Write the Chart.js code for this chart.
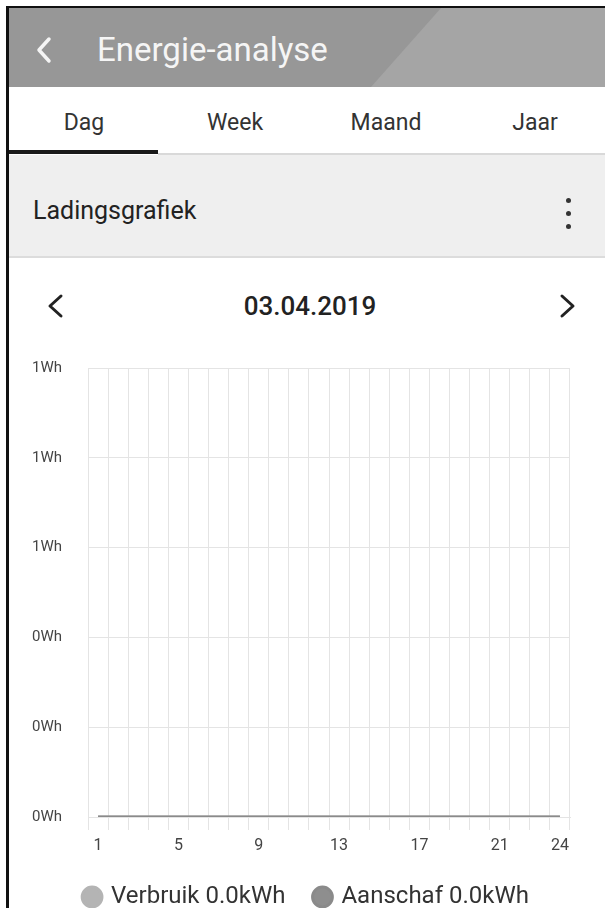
<!DOCTYPE html>
<html>
<head>
<meta charset="utf-8">
<script src="https://cdn.jsdelivr.net/npm/chart.js@4/dist/chart.umd.min.js"></script>
<style>
  html,body{margin:0;padding:0;background:#fff;width:605px;height:908px;overflow:hidden;font-family:Roboto,"Noto Sans",sans-serif;}
  .abs{position:absolute;}
  #bl{left:6px;top:6px;width:3px;height:902px;background:#111;}
  #bt{left:6px;top:6px;width:599px;height:2px;background:#111;}
  #hdr{left:9px;top:8px;width:596px;height:79px;background:#979797;overflow:hidden;}
  #hdrlight{left:0;top:0;width:596px;height:79px;background:#a5a5a5;clip-path:polygon(432px 0,596px 0,596px 79px,362px 79px);}
  #title{left:88px;top:22px;color:#f5f5f5;font-size:33px;line-height:40px;}
  #tabs{left:9px;top:87px;width:596px;height:68px;background:#fff;}
  .tab{position:absolute;top:22px;font-size:23px;line-height:28px;color:#333;transform:translateX(-50%);}
  #uline{left:9px;top:150px;width:149px;height:4px;background:#1a1a1a;}
  #tline{left:158px;top:153px;width:447px;height:2px;background:#d9d9d9;}
  #sect{left:9px;top:155px;width:596px;height:101px;background:#efefef;}
  #sline{left:9px;top:256px;width:596px;height:2px;background:#dcdcdc;}
  #stitle{left:33px;top:196px;font-size:25px;line-height:30px;color:#222;}
  .dot{position:absolute;left:566px;width:5px;height:5px;border-radius:50%;background:#333;}
  #date{left:310px;top:290px;font-size:26px;line-height:32px;color:#222;transform:translateX(-50%);font-weight:500;}
  #wrap{left:9px;top:330px;width:596px;height:589px;}
  svg{position:absolute;overflow:visible;}
</style>
</head>
<body>
<div class="abs" id="hdr"><div class="abs" id="hdrlight"></div><div class="abs" id="title">Energie-analyse</div></div>
<svg style="left:0;top:0" width="605" height="908">
  <polyline points="49,39 39,50 49,61" fill="none" stroke="#f5f5f5" stroke-width="3.5" stroke-linecap="round" stroke-linejoin="round"/>
  <polyline points="61,296 50,306 61,316" fill="none" stroke="#222" stroke-width="3" stroke-linecap="round" stroke-linejoin="round"/>
  <polyline points="562,296 573,306 562,316" fill="none" stroke="#222" stroke-width="3" stroke-linecap="round" stroke-linejoin="round"/>
</svg>
<div class="abs" id="bl"></div>
<div class="abs" id="bt"></div>
<div class="abs" id="tabs">
  <div class="tab" style="left:75px">Dag</div>
  <div class="tab" style="left:226px">Week</div>
  <div class="tab" style="left:377px">Maand</div>
  <div class="tab" style="left:526px">Jaar</div>
</div>
<div class="abs" id="tline"></div>
<div class="abs" id="uline"></div>
<div class="abs" id="sect"></div>
<div class="abs" id="sline"></div>
<div class="abs" id="stitle">Ladingsgrafiek</div>
<div class="dot" style="top:198px"></div>
<div class="dot" style="top:211px"></div>
<div class="dot" style="top:224px"></div>
<div class="abs" id="date">03.04.2019</div>
<div class="abs" id="wrap"><canvas id="c"></canvas></div>
<script>
const hours = ["1","2","3","4","5","6","7","8","9","10","11","12","13","14","15","16","17","18","19","20","21","22","23","24"];
const verbruik = [0,0,0,0,0,0,0,0,0,0,0,0,0,0,0,0,0,0,0,0,0,0,0,0];
const aanschaf = [0,0,0,0,0,0,0,0,0,0,0,0,0,0,0,0,0,0,0,0,0,0,0,0];
const yMin = 0, yMax = 1, yStep = 0.2;

const sum = a => a.reduce((s,v)=>s+v,0);
const gridCol = '#e4e4e4';

new Chart(document.getElementById('c'), {
  type: 'line',
  data: {
    labels: hours,
    datasets: [
      {label: 'Verbruik ' + sum(verbruik).toFixed(1) + 'kWh', data: verbruik, order: 2, borderColor: '#b4b4b4', backgroundColor: '#b4b4b4', borderWidth: 3, pointRadius: 0, pointStyle: 'circle'},
      {label: 'Aanschaf ' + sum(aanschaf).toFixed(1) + 'kWh', data: aanschaf, order: 1, borderColor: '#8a8a8a', backgroundColor: '#8e8e8e', borderWidth: 3, pointRadius: 0, pointStyle: 'circle'}
    ]
  },
  options: {
    responsive: true,
    maintainAspectRatio: false,
    animation: false,
    layout: {padding: {top: 38, right: 0, bottom: 0, left: 0}},
    plugins: {
      tooltip: {enabled: false},
      legend: {
        position: 'bottom',
        labels: {usePointStyle: true, pointStyle: 'circle', boxWidth: 14, boxHeight: 14, padding: 30, color: '#333', font: {family: 'Roboto', size: 24},
          sort: function(a, b){ return a.datasetIndex - b.datasetIndex; }}
      }
    },
    scales: {
      x: {
        offset: true,
        grid: {color: gridCol, offset: true, tickLength: 13, tickColor: gridCol},
        border: {color: gridCol},
        ticks: {autoSkip: false, maxRotation: 0, padding: 6, color: '#444', font: {family: 'Roboto', size: 16},
          callback: function(v, i){ return (i % 4 === 0 || i === hours.length - 1) ? hours[i] : ''; }},
        afterFit: function(s){ s.height = 38; }
      },
      y: {
        min: yMin, max: yMax,
        grid: {color: gridCol, drawTicks: false},
        border: {color: gridCol},
        ticks: {stepSize: yStep, padding: 26, color: '#444', font: {family: 'Roboto', size: 15},
          callback: function(v){ return Math.round(v) + 'Wh'; }},
        afterFit: function(s){ s.width = 79; }
      },
      yr: {
        position: 'right',
        display: true,
        grid: {display: false, drawTicks: false},
        border: {display: false},
        ticks: {display: false},
        afterFit: function(s){ s.width = 35; }
      }
    }
  }
});
</script>
</body>
</html>
